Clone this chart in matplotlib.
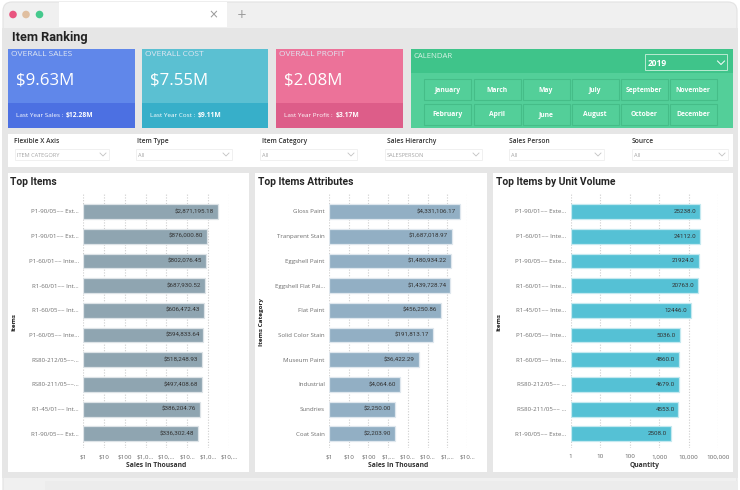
import matplotlib
matplotlib.use("Agg")
import matplotlib.pyplot as plt
from matplotlib.patches import Rectangle, FancyBboxPatch, Circle

plt.rcParams['font.family'] = ['Open Sans', 'DejaVu Sans']

W, H = 740, 490

# ---- data ----
items = ["P1-90/05~~ Ext...", "P1-90/01~~ Ext...", "P1-60/01~~ Inte...", "R1-60/01~~ Int...",
         "R1-60/05~~ Int...", "P1-60/05~~ Inte...", "RS80-212/05~~...", "RS80-211/05~~...",
         "R1-45/01~~ Int...", "R1-90/05~~ Ext..."]
item_sales = [2871195.18, 876000.80, 802076.45, 687930.52, 606472.43,
              594833.64, 518248.93, 497408.68, 386204.76, 336302.48]
item_sales_labels = ["$2,871,195.18", "$876,000.80", "$802,076.45", "$687,930.52", "$606,472.43",
                     "$594,833.64", "$518,248.93", "$497,408.68", "$386,204.76", "$336,302.48"]
item_ticks = ["$1", "$10", "$100", "$1,0...", "$10,...", "$10...", "$1,0...", "$10,..."]

categories = ["Gloss Paint", "Tranparent Stain", "Eggshell Paint", "Eggshell Flat Pai...",
              "Flat Paint", "Solid Color Stain", "Museum Paint", "Industrial", "Sundries", "Coat Stain"]
category_sales = [4331106.17, 1687018.97, 1480934.22, 1439728.74, 456250.86,
                  191813.17, 36422.29, 4064.60, 2250.00, 2203.90]
category_labels = ["$4,331,106.17", "$1,687,018.97", "$1,480,934.22", "$1,439,728.74", "$456,250.86",
                   "$191,813.17", "$36,422.29", "$4,064.60", "$2,250.00", "$2,203.90"]
category_ticks = ["$1", "$10", "$100", "$1,...", "$10...", "$10...", "$1,...", "$10..."]

volume_items = ["P1-90/01~~ Exte...", "P1-60/01~~ Inte...", "P1-90/05~~ Exte...", "R1-60/01~~ Inte...",
                "R1-45/01~~ Inte...", "P1-60/05~~ Inte...", "R1-60/05~~ Inte...", "RS80-212/05~~ ...",
                "RS80-211/05~~ ...", "R1-90/05~~ Exte..."]
volume = [25238.0, 24112.0, 21924.0, 20763.0, 12446.0, 5036.0, 4860.0, 4679.0, 4553.0, 2508.0]
volume_ticks = ["1", "10", "100", "1,000", "10,000", "100,000"]

kpi_titles = ["OVERALL SALES", "OVERALL COST", "OVERALL PROFIT"]
kpi_values = ["$9.63M", "$7.55M", "$2.08M"]
kpi_last_names = ["Last Year Sales : ", "Last Year Cost : ", "Last Year Profit : "]
kpi_last_values = ["$12.28M", "$9.11M", "$3.17M"]

months_top = ["January", "March", "May", "July", "September", "November"]
months_bottom = ["February", "April", "June", "August", "October", "December"]

filter_names = ["Flexible X Axis", "Item Type", "Item Category", "Sales Hierarchy", "Sales Person", "Source"]
filter_values = ["ITEM CATEGORY", "All", "All", "SALESPERSON", "All", "All"]

fig = plt.figure(figsize=(W / 100, H / 100), dpi=100, facecolor="white")
bg = fig.add_axes([0, 0, 1, 1])
bg.set_xlim(0, W)
bg.set_ylim(H, 0)
bg.axis("off")


def rect(x0, y0, x1, y1, color, ec="none", lw=0, z=1, ls="-"):
    bg.add_patch(Rectangle((x0, y0), x1 - x0, y1 - y0, facecolor=color, edgecolor=ec, linewidth=lw, zorder=z, linestyle=ls))


# window
bg.add_patch(FancyBboxPatch((3, 2), 734, 500, boxstyle="round,pad=0,rounding_size=9",
                            facecolor="#f0f0f0", edgecolor="#e2e2e2", linewidth=0.8, zorder=0.5))
rect(2, 28, 738, 478, "#e6e6e6", z=0.6)
rect(45, 481, 738, 490, "#ececec", z=0.6)
rect(59, 2, 227, 27, "white")
for cx, col in zip([13, 26, 39.5], ["#e9557f", "#e0bfa0", "#45c98d"]):
    bg.add_patch(Circle((cx, 14.5), 3.8, facecolor=col, edgecolor="none", zorder=2))
bg.text(213, 15, "\u00d7", ha="center", va="center", fontsize=8.5, color="#9a9a9a", family="DejaVu Sans")
bg.text(241.5, 14.5, "+", ha="center", va="center", fontsize=8.5, color="#9a9a9a", family="DejaVu Sans")
bg.text(12, 37, "Item Ranking", ha="left", va="center", fontsize=9.2, fontweight="bold",
        color="#222222", family="Roboto")

# KPI cards
cards = [(8, 135, "#6087ea", "#4c70e2"), (142, 268, "#5bc0d2", "#37afc9"), (276, 403, "#ec7299", "#dd5d89")]
for k, (x0, x1, top, bot) in enumerate(cards):
    rect(x0, 49.5, x1, 128, top)
    rect(x0, 103, x1, 128, bot)
    bg.text(x0 + 3, 54.5, kpi_titles[k], fontsize=6.0, color="#dfe6f2", ha="left", va="center", zorder=3)
    bg.text(x0 + 8, 81, kpi_values[k], fontsize=12.2, color="white", ha="left", va="center", zorder=3)
    t = bg.text(x0 + 8, 115, kpi_last_names[k], fontsize=4.6, color="white", ha="left", va="center", zorder=3)
    fig.canvas.draw()
    ext = t.get_window_extent()
    bg.text(ext.x1 + 1, 115, kpi_last_values[k], fontsize=4.9, color="white", fontweight="bold", ha="left", va="center", zorder=3)

# calendar
rect(411, 49, 733, 128, "#53cf99")
rect(411, 49, 733, 73, "#3fc48a")
bg.text(414, 57, "CALENDAR", fontsize=5.6, color="#d8f2e5", ha="left", va="center", zorder=3)
rect(644.5, 54.5, 727, 70, "none", ec="#b9ebd2", lw=0.7, z=3)
bg.text(647.5, 63, "2019", fontsize=6, color="white", fontweight="bold", ha="left", va="center", zorder=3)
bg.plot([717.5, 721, 724.5], [61, 64.5, 61], color="white", lw=0.7, zorder=3)
btn_x = [424, 473.5, 522.5, 571.5, 620.5, 669.5]
for i, x0 in enumerate(btn_x):
    for (y0, y1, names) in [(79.5, 100.5, months_top), (103.5, 125, months_bottom)]:
        rect(x0, y0, x0 + 47, y1, "#53cf99", ec="#45bd88", lw=0.8, z=2)
        bg.text(x0 + 23.5, (y0 + y1) / 2 + 0.3, names[i], fontsize=4.9, color="white", fontweight="bold",
                ha="center", va="center", zorder=3)

# filter strip
rect(8, 134, 733, 167, "white")
label_x = [14, 137, 262, 387, 509, 632]
box_x = [(15, 109), (136, 232), (260, 357), (385, 482), (509, 604), (632, 728)]
for name, val, lx, (b0, b1) in zip(filter_names, filter_values, label_x, box_x):
    bg.text(lx, 141.3, name, fontsize=4.8, color="#333333", fontweight="semibold", ha="left", va="center", zorder=3)
    rect(b0, 148.5, b1, 160, "white", ec="#f0f0f0", lw=0.7, z=2)
    bg.text(b0 + 2, 155, val, fontsize=4.1, color="#a4a4a4", ha="left", va="center", zorder=3)
    bg.plot([b1 - 9, b1 - 6, b1 - 3], [153, 156, 153], color="#c2c2c2", lw=0.6, zorder=3)

# chart panels
rect(8, 173, 249, 472, "white")
rect(255, 173, 487, 472, "white")
rect(493, 173, 733, 472, "white")
for x, title in [(10, "Top Items"), (258, "Top Items Attributes"), (496, "Top Items by Unit Volume")]:
    bg.text(x, 181.5, title, fontsize=7.4, fontweight="bold", color="#252525", ha="left", va="center",
            zorder=3, family="Roboto")


def hbar(x_lo, x_hi, decades, names, values, labels, ticks, color, edge, xlabel, ylabel, ylabel_x, xlabel_x):
    top, bottom = 194, 448
    ax = fig.add_axes([x_lo / W, 1 - bottom / H, (x_hi - x_lo) / W, (bottom - top) / H], facecolor="none")
    ax.set_zorder(3)
    ax.set_xscale("log")
    ax.set_xlim(1, 10 ** decades)
    ax.set_ylim(9.57, -0.708)
    pos = list(range(len(values)))
    ax.barh(pos, values, height=0.6, left=1, color=color, edgecolor=edge, linewidth=0.9, zorder=2)
    ax.set_xticks([10 ** i for i in range(len(ticks))])
    ax.set_xticklabels(ticks, fontsize=4.5, color="#666666")
    ax.minorticks_off()
    ax.set_yticks(pos)
    ax.set_yticklabels(names, fontsize=4.4, color="#6e6e6e")
    ax.tick_params(axis="y", length=0, pad=3)
    ax.tick_params(axis="x", length=0, pad=4.6)
    ax.xaxis.grid(True, color="#cdcdcd", linestyle=(0, (1, 1.5)), linewidth=0.8, zorder=0)
    ax.set_axisbelow(True)
    for s in ax.spines.values():
        s.set_visible(False)
    for p, v, lab in zip(pos, values, labels):
        ax.annotate(lab, (v, p), xytext=(-2.8, 0), textcoords="offset points", ha="right", va="center",
                    fontsize=4.5, color="#333333", zorder=4, family="Roboto")
    bg.text(xlabel_x, 465.8, xlabel, fontsize=4.9, fontweight="bold", color="#333333", ha="center", va="center", zorder=3)
    bg.text(ylabel_x, 322, ylabel, fontsize=4.6, fontweight="bold", color="#222222", rotation=90,
            ha="center", va="center", zorder=3)
    return ax


hbar(83, 229, 7, items, item_sales, item_sales_labels, item_ticks, "#8fa5b1", "#dde3e7",
     "Sales In Thousand", "Items", 13.5, 156)
hbar(329, 467, 7, categories, category_sales, category_labels, category_ticks, "#92afc4", "#dfe7ee",
     "Sales In Thousand", "Items Category", 261, 398)
hbar(570.7, 718, 5, volume_items, volume, [f"{v:.1f}" for v in volume], volume_ticks, "#55c1d5", "#c4e9f0",
     "Quantity", "Items", 499, 644.5)

fig.savefig("out.png", dpi=100, facecolor="white")
